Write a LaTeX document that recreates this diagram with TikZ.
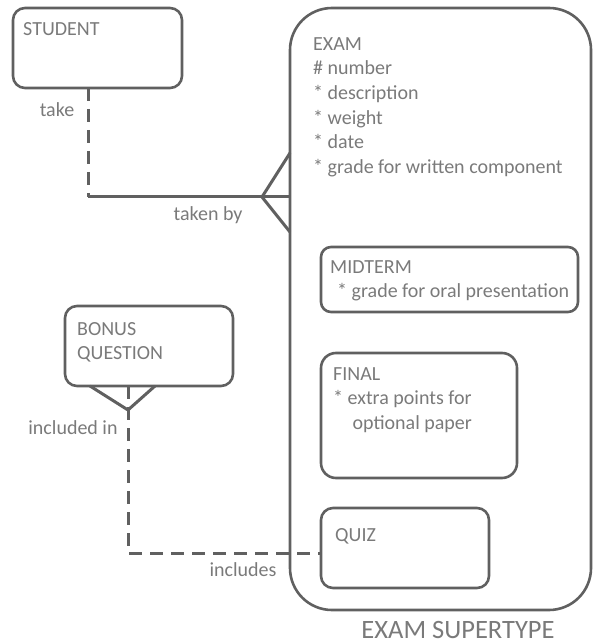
\documentclass[tikz,border=0pt]{standalone}
\usepackage{fontspec}
\setmainfont{Carlito}
\usetikzlibrary{positioning}
\definecolor{linegray}{RGB}{96,96,96}
\definecolor{textgray}{RGB}{122,122,122}

\begin{document}
\begin{tikzpicture}[x=1pt, y=-1pt,
	entity/.style={draw=linegray, line width=2.6pt, rounded corners=#1, anchor=north west, inner sep=0pt, outer sep=0pt},
	attr/.style={font=\fontsize{20}{24.7}\selectfont, text=textgray, anchor=north west, inner sep=0pt, align=left},
	rel/.style={font=\fontsize{20}{24.7}\selectfont, text=textgray, anchor=base, inner sep=0pt},
	solidrel/.style={draw=linegray, line width=3pt},
	dashrel/.style={solidrel, dash pattern=on 13pt off 8pt}]
			%%%%% START %%%%%
			\useasboundingbox (0,0) rectangle (592,644);
			
			\node[entity=42pt, minimum width=301pt, minimum height=602pt] (exam) at (290,8) {};
			\node[entity=12pt, minimum width=169pt, minimum height=80pt] (student) at (13,8) {};
			\node[entity=10pt, minimum width=257pt, minimum height=65pt] (midterm) at (321,247) {};
			\node[entity=15pt, minimum width=196pt, minimum height=125pt] (final) at (321,353) {};
			\node[entity=12pt, minimum width=168pt, minimum height=80pt] (quiz) at (321,508) {};
			\node[entity=12pt, minimum width=168pt, minimum height=80pt] (bonus) at (65,306) {};
			
			\node[attr] (studentname) at (23,22) {STUDENT};
			\node[attr] (examattr) at (313,37) {EXAM\\\# number\\* description\\* weight\\* date\\* grade for written component};
			\node[attr] (midtermattr) at (330,260) {MIDTERM\\\hspace*{0.35em}* grade for oral presentation};
			\node[attr] (finalattr) at (333,367) {FINAL\\* extra points for\\\hspace*{0.97em}optional paper};
			\node[attr] (quizname) at (335,528) {QUIZ};
			\node[attr] (bonusname) at (77,322) {BONUS\\QUESTION};
			
			% student - exam
			\coordinate (takebend) at (88,197);
			\coordinate (takefoot) at (262,197);
			\draw[dashrel] (student.south -| takebend) -- (takebend);
			\draw[solidrel] (takebend) -- (exam.west |- takebend);
			\draw[solidrel] (exam.west |- 0,153) -- (takefoot) -- (exam.west |- 0,232);
			\node[rel] (takelabel) at (57,117) {take};
			\node[rel] (takenlabel) at (208,220) {taken by};
			
			% bonus question - quiz
			\coordinate (inclfoot) at (128,410);
			\coordinate (inclbend) at (128,553);
			\draw[solidrel] (bonus.south west -| 90,0) -- (inclfoot) -- (bonus.south west -| 155,0);
			\draw[dashrel] (bonus.south -| inclfoot) -- (inclbend) -- (quiz.west |- inclbend);
			\node[rel] (inclinlabel) at (73,434) {included in};
			\node[rel] (incllabel) at (243,576) {includes};
			
			\node[rel, font=\fontsize{26.5}{31}\selectfont] (supertype) at (458,638) {EXAM SUPERTYPE};
			%%%%% END %%%%%
\end{tikzpicture}
\end{document}
